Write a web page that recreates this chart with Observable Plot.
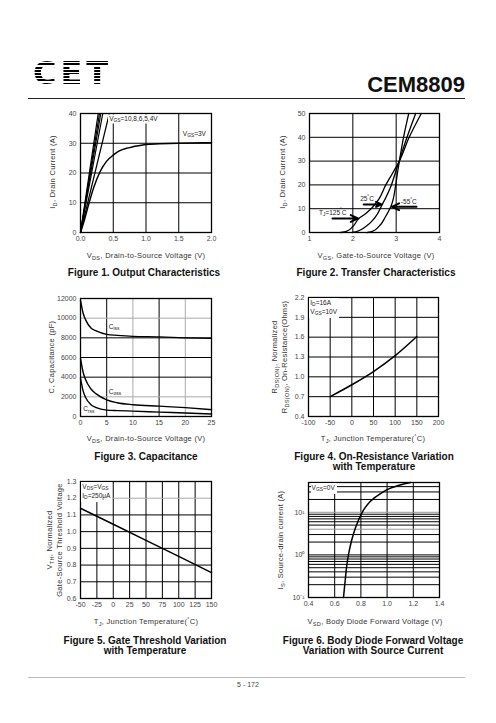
<!DOCTYPE html>
<html><head><meta charset="utf-8">
<script src="https://cdn.jsdelivr.net/npm/d3@7"></script>
<script src="https://cdn.jsdelivr.net/npm/@observablehq/plot@0.6"></script>
<style>
body{margin:0;background:#fff;}
#page{position:relative;width:496px;height:723px;overflow:hidden;font-family:"Liberation Sans",Arial,sans-serif;color:#222;background:#fff;}
.abs{position:absolute;white-space:nowrap;}
.cap{font-family:"Liberation Sans Narrow","Liberation Sans",Arial,sans-serif;font-weight:bold;font-size:10px;text-align:center;line-height:10px;color:#111;transform:translateX(-50%);}
.xt{font-size:7.5px;color:#333;letter-spacing:0.3px;transform:translate(-50%,-50%);}
.yt{font-size:7.5px;color:#333;letter-spacing:0.3px;transform:translate(-50%,-50%) rotate(-90deg);text-align:center;line-height:10px;}
.ann{font-size:6.5px;color:#222;background:#fff;line-height:8px;}
.s{font-size:75%;position:relative;top:0.3em;}
.logo{font-family:"DejaVu Sans",sans-serif;font-weight:bold;font-size:32px;line-height:32px;letter-spacing:4px;color:transparent;background:repeating-linear-gradient(to bottom,#000 0 2px,transparent 2px 3.2px);-webkit-background-clip:text;background-clip:text;}
</style></head>
<body><div id="page"></div>
<script>
// ---------- DATA ----------
// Figure 1: Output characteristics
const f1SteepVgs = ["10V","8V","6V","5V","4V"];
const f1SteepVdsAt40A = [0.27, 0.29, 0.31, 0.34, 0.44];
const f1Vds = [0,0.05,0.1,0.2,0.3,0.4,0.5,0.6,0.7,0.8,1.0,1.2,1.5,2.0];
const f1Id3V = [0,3.5,7.5,15,20.5,24,26,27.5,28.3,28.8,29.6,29.8,30,30.2];
const f1XTicks = [0,0.5,1,1.5,2];
const f1YTicks = [0,10,20,30,40];

// Figure 2: Transfer characteristics
const f2Vgs125 = [1.72,1.85,2.0,2.14,2.3,2.45,2.6,2.76,2.92,3.06,3.3,3.58];
const f2Id125  = [0,0.5,2.5,5.9,8,10.5,14,20,25,29.5,40,50];
const f2Vgs25  = [1.99,2.1,2.3,2.5,2.68,2.89,2.98,3.06,3.25,3.45];
const f2Id25   = [0,0.5,2.5,6,11.8,20,25,29.5,40,50];
const f2Vgs55  = [2.34,2.45,2.6,2.75,2.88,2.99,3.03,3.07,3.17,3.29];
const f2Id55   = [0,0.5,2.5,6.5,11,20,25,29.5,40,50];
const f2XTicks = [1,2,3,4];
const f2YTicks = [0,10,20,30,40,50];
const f2ArrowX1 = [1.53, 2.25, 3.47];
const f2ArrowX2 = [2.12, 2.66, 2.90];
const f2ArrowY  = [5.9, 11.8, 10.8];

// Figure 3: Capacitance
const f3Vds  = [0,0.5,1,2,3,5,7,10,15,20,25];
const f3Ciss = [11800,10500,9800,9000,8700,8350,8250,8150,8100,8000,7950];
const f3Coss = [5900,4500,3700,2800,2300,1700,1400,1200,1050,900,700];
const f3Crss = [3900,2600,1900,1200,900,650,600,550,450,350,250];
const f3XTicks = [0,5,10,15,20,25];
const f3YTicks = [0,2000,4000,6000,8000,10000,12000];

// Figure 4: On-resistance vs temperature
const f4Tj  = [-50,0,50,100,150];
const f4Rds = [0.70,0.88,1.08,1.32,1.61];
const f4XTicks = [-100,-50,0,50,100,150,200];
const f4YTicks = [0.4,0.7,1.0,1.3,1.6,1.9,2.2];

// Figure 5: Gate threshold vs temperature
const f5Tj  = [-50,0,50,100,150];
const f5Vth = [1.14,1.044,0.948,0.852,0.755];
const f5XTicks = [-50,-25,0,25,50,75,100,125,150];
const f5YTicks = [0.6,0.7,0.8,0.9,1.0,1.1,1.2,1.3];

// Figure 6: Body diode forward voltage
const f6Vsd = [0.667,0.68,0.69,0.705,0.73,0.76,0.81,0.86,0.9,0.95,1.0,1.1,1.18];
const f6Is  = [0.1,0.25,0.5,1,2.24,4.47,10,16.6,21.4,27.5,33.9,43.7,50];
const f6XTicks = [0.4,0.6,0.8,1.0,1.2,1.4];
const f6YTicks = [0.1,1,10];
const f6YTickLabels = ["10⁻¹","10⁰","10¹"];
const f6YGrid = [0.2,0.3,0.4,0.5,0.6,0.7,0.8,0.9,1,2,3,4,5,6,7,8,9,10,20,30,40];

// ---------- HELPERS ----------
const page = document.getElementById("page");
function el(cls, html, left, top, extra) {
  const d = document.createElement("div");
  d.className = "abs " + cls;
  d.innerHTML = html;
  d.style.left = left + "px";
  d.style.top = top + "px";
  if (extra) Object.assign(d.style, extra);
  page.appendChild(d);
  return d;
}
const zip = (xs, ys, extra) => xs.map((x, i) => ({x, y: ys[i], ...(extra || {})}));
const fmt = d => String(d);
const fmt1 = d => d.toFixed(1);

function chart(spec) {
  const [x0, y0, x1, y1] = spec.frame;
  const ml = 40, mr = 14, mt = 10, mb = 16;
  const gridStroke = spec.gridStroke || (() => "#000");
  const plot = Plot.plot({
    width: x1 - x0 + ml + mr, height: y1 - y0 + mt + mb,
    marginLeft: ml, marginRight: mr, marginTop: mt, marginBottom: mb,
    x: {domain: spec.xDomain, axis: null},
    y: {domain: spec.yDomain, type: spec.yType || "linear", axis: null},
    style: {fontFamily: "Liberation Sans, Arial, sans-serif", fontSize: "7px", color: "#444", background: "none", overflow: "visible"},
    marks: [
      Plot.ruleX(spec.xGrid, {stroke: gridStroke, strokeWidth: 1}),
      Plot.ruleY(spec.yGrid, {stroke: spec.yGridStroke || gridStroke, strokeWidth: 1}),
      Plot.frame({stroke: "#000", strokeWidth: 1.3}),
      Plot.axisX(spec.xTicks, {tickSize: 0, tickPadding: 4, tickFormat: spec.xFormat || fmt, label: null}),
      Plot.axisY(spec.yTicks, {tickSize: 0, tickPadding: 4, tickFormat: spec.yFormat || fmt, label: null}),
      ...spec.marks
    ]
  });
  plot.style.position = "absolute";
  plot.style.left = (x0 - ml) + "px";
  plot.style.top = (y0 - mt) + "px";
  page.appendChild(plot);
  const sx = plot.scale("x"), sy = plot.scale("y");
  return {px: v => x0 - ml + sx.apply(v), py: v => y0 - mt + sy.apply(v)};
}

// ---------- HEADER ----------
el("logo", "CET", 33, 57);
el("", "CEM8809", 465, 72, {fontSize: "22px", fontWeight: "bold", transform: "translateX(-100%)", color: "#111"});
el("", "", 28, 98, {width: "437px", height: "0", borderTop: "1px solid #222"});

// ---------- FIGURE 1 ----------
const f1Steep = f1SteepVgs.flatMap((s, i) => [{s, x: 0, y: 0}, {s, x: f1SteepVdsAt40A[i], y: 40}]);
const c1 = chart({
  frame: [80, 113, 211, 232], xDomain: [0, 2], yDomain: [0, 40],
  xGrid: [0.5, 1, 1.5], yGrid: [10, 20, 30], xTicks: f1XTicks, yTicks: f1YTicks, xFormat: fmt1,
  marks: [
    Plot.line(f1Steep, {x: "x", y: "y", z: "s", stroke: "#000", strokeWidth: 1.2}),
    Plot.line(zip(f1Vds, f1Id3V), {x: "x", y: "y", stroke: "#000", strokeWidth: 1.5, curve: "monotone-x"})
  ]
});
el("ann", "V<span class='s'>GS</span>=10,8,6,5,4V", c1.px(0.43), c1.py(38), {transform: "translateY(-50%)", padding: "0 1px"});
el("ann", "V<span class='s'>GS</span>=3V", c1.px(1.57), c1.py(33), {transform: "translateY(-50%)", background: "none"});
el("yt", "I<span class='s'>D</span>, Drain Current (A)", 53, 172);
el("xt", "V<span class='s'>DS</span>, Drain-to-Source Voltage (V)", 146, 255);
el("cap", "Figure 1. Output Characteristics", 144, 268);

// ---------- FIGURE 2 ----------
const c2 = chart({
  frame: [309, 113, 439, 232], xDomain: [1, 4], yDomain: [0, 50],
  xGrid: [2, 3], yGrid: [10, 20, 30, 40], xTicks: f2XTicks, yTicks: f2YTicks,
  marks: [
    Plot.line(zip(f2Vgs125, f2Id125), {x: "x", y: "y", stroke: "#000", strokeWidth: 1.3, curve: "monotone-y"}),
    Plot.line(zip(f2Vgs25, f2Id25), {x: "x", y: "y", stroke: "#000", strokeWidth: 1.3, curve: "monotone-y"}),
    Plot.line(zip(f2Vgs55, f2Id55), {x: "x", y: "y", stroke: "#000", strokeWidth: 1.3, curve: "monotone-y"}),
    Plot.arrow(f2ArrowY.map((y, i) => ({x1: f2ArrowX1[i], x2: f2ArrowX2[i], y})), {x1: "x1", x2: "x2", y1: "y", y2: "y", stroke: "#000", strokeWidth: 2, headLength: 6, headAngle: 50})
  ]
});
el("ann", "T<span class='s'>J</span>=125<sup style='font-size:70%'>°</sup>C", c2.px(1.23), c2.py(8.3), {transform: "translateY(-50%)", background: "none"});
el("ann", "25<sup style='font-size:70%'>°</sup>C", c2.px(2.18), c2.py(14.2), {transform: "translateY(-50%)", background: "none"});
el("ann", "-55<sup style='font-size:70%'>°</sup>C", c2.px(3.12), c2.py(13.2), {transform: "translateY(-50%)", background: "none"});
el("yt", "I<span class='s'>D</span>, Drain Current (A)", 283, 172);
el("xt", "V<span class='s'>GS</span>, Gate-to-Source Voltage (V)", 376, 255);
el("cap", "Figure 2. Transfer Characteristics", 376, 268);

// ---------- FIGURE 3 ----------
const c3 = chart({
  frame: [80, 298, 211, 416], xDomain: [0, 25], yDomain: [0, 12000],
  xGrid: [5, 10, 15, 20], yGrid: [2000, 4000, 6000, 8000, 10000], xTicks: f3XTicks, yTicks: f3YTicks,
  gridStroke: d => (d === 10 || d === 20 || d === 2000 || d === 10000) ? "#aaa" : "#000",
  marks: [
    Plot.line(zip(f3Vds, f3Ciss), {x: "x", y: "y", stroke: "#000", strokeWidth: 1.4, curve: "monotone-x"}),
    Plot.line(zip(f3Vds, f3Coss), {x: "x", y: "y", stroke: "#000", strokeWidth: 1.4, curve: "monotone-x"}),
    Plot.line(zip(f3Vds, f3Crss), {x: "x", y: "y", stroke: "#000", strokeWidth: 1.4, curve: "monotone-x"})
  ]
});
el("ann", "C<span class='s'>iss</span>", c3.px(5.5), c3.py(9100), {transform: "translateY(-50%)", background: "none"});
el("ann", "C<span class='s'>oss</span>", c3.px(5.5), c3.py(2450), {transform: "translateY(-50%)", background: "none"});
el("ann", "C<span class='s'>rss</span>", c3.px(0.6), c3.py(700), {transform: "translateY(-50%)", background: "none"});
el("yt", "C, Capacitance (pF)", 52, 357);
el("xt", "V<span class='s'>DS</span>, Drain-to-Source Voltage (V)", 146, 438);
el("cap", "Figure 3. Capacitance", 146, 452);

// ---------- FIGURE 4 ----------
const c4 = chart({
  frame: [308, 297, 438, 416], xDomain: [-100, 200], yDomain: [0.4, 2.2],
  xGrid: [-50, 0, 50, 100, 150], yGrid: [0.7, 1.0, 1.3, 1.6, 1.9], xTicks: f4XTicks, yTicks: f4YTicks, yFormat: fmt1,
  marks: [
    Plot.line(zip(f4Tj, f4Rds), {x: "x", y: "y", stroke: "#000", strokeWidth: 1.5, curve: "monotone-x"})
  ]
});
el("ann", "I<span class='s'>D</span>=16A<br>V<span class='s'>GS</span>=10V", c4.px(-97), c4.py(2.19), {padding: "1px 2px 1px 1px"});
el("yt", "R<span class='s'>DS(ON)</span>, Normalized<br>R<span class='s'>DS(ON)</span>, On-Resistance(Ohms)", 280, 357);
el("xt", "T<span class='s'>J</span>, Junction Temperature(<sup style='font-size:70%'>°</sup>C)", 373, 438);
el("cap", "Figure 4. On-Resistance Variation<br>with Temperature", 374, 452);

// ---------- FIGURE 5 ----------
const c5 = chart({
  frame: [80, 481, 211, 598], xDomain: [-50, 150], yDomain: [0.6, 1.3],
  xGrid: [-25, 0, 25, 50, 75, 100, 125], yGrid: [0.7, 0.8, 0.9, 1.0, 1.1, 1.2], xTicks: f5XTicks, yTicks: f5YTicks, yFormat: fmt1,
  yGridStroke: d => Math.abs(d - 1.2) < 1e-6 ? "#aaa" : "#000",
  marks: [
    Plot.line(zip(f5Tj, f5Vth), {x: "x", y: "y", stroke: "#000", strokeWidth: 1.5})
  ]
});
el("ann", "V<span class='s'>DS</span>=V<span class='s'>GS</span><br>I<span class='s'>D</span>=250μA", c5.px(-48), c5.py(1.295), {padding: "1px 2px 1px 1px"});
el("yt", "V<span class='s'>TH</span>, Normalized<br>Gate-Source Threshold Voltage", 55, 540);
el("xt", "T<span class='s'>J</span>, Junction Temperature(<sup style='font-size:70%'>°</sup>C)", 146, 621);
el("cap", "Figure 5. Gate Threshold Variation<br>with Temperature", 145, 636);

// ---------- FIGURE 6 ----------
const c6 = chart({
  frame: [308, 482, 439, 597], xDomain: [0.4, 1.4], yDomain: [0.1, 50], yType: "log",
  xGrid: [0.6, 0.8, 1.0, 1.2], yGrid: f6YGrid, xTicks: f6XTicks, yTicks: f6YTicks, xFormat: fmt1,
  yFormat: d => f6YTickLabels[f6YTicks.indexOf(d)],
  yGridStroke: d => (d === 10 || d === 4) ? "#999" : "#000",
  marks: [
    Plot.line(zip(f6Vsd, f6Is), {x: "x", y: "y", stroke: "#000", strokeWidth: 1.5, curve: "monotone-x"})
  ]
});
el("ann", "V<span class='s'>GS</span>=0V", c6.px(0.42), c6.py(48), {padding: "1px 2px 1px 1px"});
el("yt", "I<span class='s'>S</span>, Source-drain current (A)", 281, 540);
el("xt", "V<span class='s'>SD</span>, Body Diode Forward Voltage (V)", 375, 621);
el("cap", "Figure 6. Body Diode Forward Voltage<br>Variation with Source Current", 373, 636);

// ---------- FOOTER ----------
el("", "", 28, 677, {width: "437px", height: "0", borderTop: "1px solid #bbb"});
el("", "5 - 172", 248, 681, {fontSize: "7px", color: "#444", transform: "translateX(-50%)"});
</script>
</body></html>
